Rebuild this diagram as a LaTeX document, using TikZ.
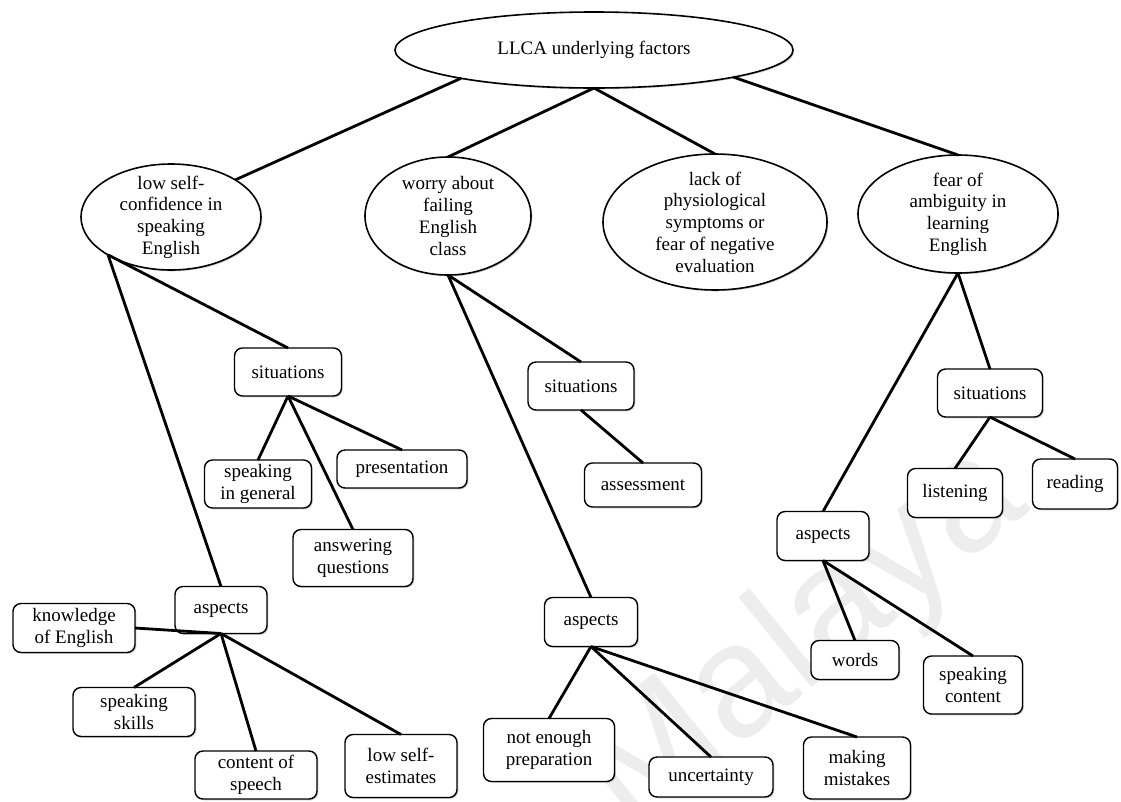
\documentclass[tikz,border=0pt]{standalone}
\usepackage{fontspec}
\setmainfont{Liberation Serif}
\newfontfamily\wmfont{Liberation Sans}
\usetikzlibrary{shapes.geometric,shadows}
\begin{document}
\begin{tikzpicture}[x=1pt,y=-1pt,
  every node/.style={font=\fontsize{19}{21.7}\selectfont, align=center, inner sep=0pt, outer sep=0pt},
  softshadow/.style={drop shadow={shadow xshift=1.3pt, shadow yshift=-1.3pt, fill=black!45, opacity=0.45}},
  oval/.style={ellipse, draw, line width=1.6pt, fill=white, softshadow},
  box/.style={rectangle, rounded corners=8pt, draw, line width=1.4pt, fill=white, softshadow},
  txt/.style={},
  link/.style={line width=2.8pt},
  wmtext/.style={font=\wmfont\fontsize{160}{160}\selectfont, text=black!7}
]
\useasboundingbox (0,0) rectangle (1121,801);

% faint background watermark
\node[wmtext, rotate=39] (wm) at (805,640) {Malaya};

% top level
\node[oval, minimum width=398pt, minimum height=76pt] (root) at (594,50) {};
\node[txt] (rootT) at (root) {LLCA underlying factors};

% the four factors
\node[oval, minimum width=180pt, minimum height=106pt] (low) at (171,217) {};
\node[txt] (lowT) at (low) {low self-\\confidence in\\speaking\\English};
\node[oval, minimum width=166pt, minimum height=118pt] (worry) at (448,216) {};
\node[txt] (worryT) at (worry) {worry about\\failing\\English\\class};
\node[oval, minimum width=224pt, minimum height=136pt] (lack) at (715,222) {};
\node[txt] (lackT) at (lack) {lack of\\physiological\\symptoms or\\fear of negative\\evaluation};
\node[oval, minimum width=200pt, minimum height=118pt] (fear) at (958,214) {};
\node[txt] (fearT) at (fear) {fear of\\ambiguity in\\learning\\English};

% branch: low self-confidence
\node[box, minimum width=107pt, minimum height=48pt] (sitL) at (288,372) {situations};
\node[box, minimum width=107pt, minimum height=48pt] (spk) at (258,484) {speaking\\in general};
\node[box, minimum width=130pt, minimum height=38pt] (pres) at (402,469) {presentation};
\node[box, minimum width=120pt, minimum height=57pt] (ans) at (353,558) {answering\\questions};
\node[box, minimum width=92pt, minimum height=47pt] (aspL) at (221,610) {aspects};
\node[box, minimum width=122pt, minimum height=49pt] (know) at (74,628) {knowledge\\of English};
\node[box, minimum width=122pt, minimum height=49pt] (skills) at (134,712) {speaking\\skills};
\node[box, minimum width=122pt, minimum height=48pt] (content) at (256,775) {content of\\speech};
\node[box, minimum width=112pt, minimum height=63pt] (est) at (401,766) {low self-\\estimates};

% branch: worry about failing
\node[box, minimum width=106pt, minimum height=48pt] (sitM) at (581,386) {situations};
\node[box, minimum width=117pt, minimum height=44pt] (assess) at (643,485) {assessment};
\node[box, minimum width=93pt, minimum height=49pt] (aspM) at (591,622) {aspects};
\node[box, minimum width=131pt, minimum height=63pt] (prep) at (549,750) {not enough\\preparation};
\node[box, minimum width=124pt, minimum height=40pt] (unc) at (711,777) {uncertainty};
\node[box, minimum width=107pt, minimum height=62pt] (mist) at (857,768) {making\\mistakes};

% branch: fear of ambiguity
\node[box, minimum width=105pt, minimum height=48pt] (sitR) at (990,393) {situations};
\node[box, minimum width=95pt, minimum height=49pt] (listen) at (955,493) {listening};
\node[box, minimum width=85pt, minimum height=50pt] (read) at (1075,484) {reading};
\node[box, minimum width=92pt, minimum height=49pt] (aspR) at (823,536) {aspects};
\node[box, minimum width=88pt, minimum height=39pt] (words) at (855,660) {words};
\node[box, minimum width=99pt, minimum height=58pt] (spc) at (973,685) {speaking\\content};

% connectors
\draw[link] (root.192) -- (low.30);
\draw[link] (root.south) -- (worry.north);
\draw[link] (root.south) -- (lack.north);
\draw[link] (root.349) -- (fear.north);

\draw[link] (low.211) -- (sitL.north);
\draw[link] (low.211) -- (aspL.north);
\draw[link] (sitL.south) -- (spk.north);
\draw[link] (sitL.south) -- (ans.north);
\draw[link] (sitL.south) -- (pres.north);
\draw[link] (aspL.south) -- (know.east);
\draw[link] (aspL.south) -- (skills.north);
\draw[link] (aspL.south) -- (content.north);
\draw[link] (aspL.south) -- (est.north);

\draw[link] (worry.south) -- (sitM.north);
\draw[link] (worry.south) -- (aspM.north);
\draw[link] (sitM.south) -- (assess.north);
\draw[link] (aspM.south) -- (prep.north);
\draw[link] (aspM.south) -- (unc.north);
\draw[link] (aspM.south) -- (mist.north);

\draw[link] (fear.south) -- (sitR.north);
\draw[link] (fear.south) -- (aspR.north);
\draw[link] (sitR.south) -- (listen.north);
\draw[link] (sitR.south) -- (read.north);
\draw[link] (aspR.south) -- (words.north);
\draw[link] (aspR.south) -- (spc.north);
\end{tikzpicture}
\end{document}
